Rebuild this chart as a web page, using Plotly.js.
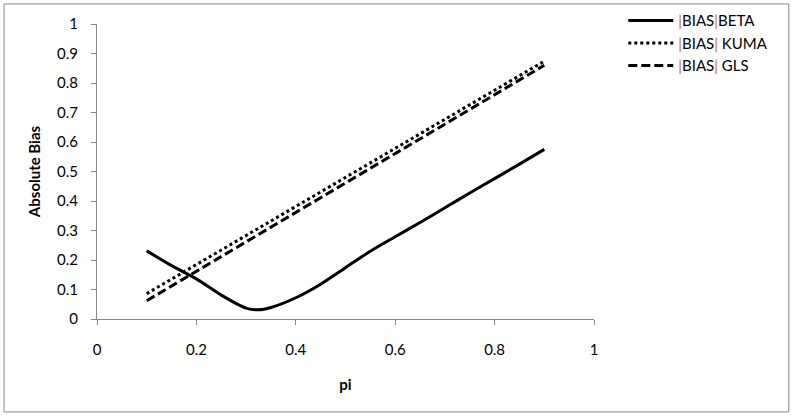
<!DOCTYPE html>
<html>
<head>
<meta charset="utf-8">
<script src="https://cdn.plot.ly/plotly-3.0.1.min.js"></script>
<style>html,body{margin:0;padding:0;background:#fff;}#chart{width:794px;height:416px;}</style>
</head>
<body>
<div id="chart"></div>
<script>
// Data
const piValues = [0.1, 0.15, 0.2, 0.25, 0.3, 0.325, 0.35, 0.4, 0.45, 0.5, 0.55, 0.6, 0.65, 0.7, 0.75, 0.8, 0.85, 0.9];
const biasBeta = [0.231, 0.181, 0.136, 0.081, 0.037, 0.031, 0.039, 0.072, 0.118, 0.174, 0.230, 0.279, 0.327, 0.377, 0.427, 0.476, 0.525, 0.575];
const biasKumaX = [0.1, 0.9];
const biasKuma = [0.086, 0.874];
const biasGlsX = [0.1, 0.9];
const biasGls = [0.062, 0.860];
const xTicks = [0, 0.2, 0.4, 0.6, 0.8, 1];
const yTicks = [0, 0.1, 0.2, 0.3, 0.4, 0.5, 0.6, 0.7, 0.8, 0.9, 1];

const bar = '<span style="color:#c8702a">|</span>';
const names = [bar + 'BIAS' + bar + 'BETA', bar + 'BIAS' + bar + ' KUMA', bar + 'BIAS' + bar + ' GLS'];

const traces = [
  {x: piValues, y: biasBeta, name: names[0], mode: 'lines', line: {color: '#000', width: 3, shape: 'spline', smoothing: 0.8}},
  {x: biasKumaX, y: biasKuma, name: names[1], mode: 'lines', line: {color: '#000', width: 3, dash: '3px,3px'}},
  {x: biasGlsX, y: biasGls, name: names[2], mode: 'lines', line: {color: '#000', width: 3, dash: '9px,4px'}}
];

const fontFam = 'Lato, "Open Sans", sans-serif';
const axisCommon = {
  showgrid: false, zeroline: false, showline: true, linecolor: '#868686', linewidth: 1,
  ticks: 'outside', ticklen: 5, tickcolor: '#868686', tickwidth: 1,
  tickfont: {family: fontFam, size: 15, color: '#000'}
};

const layout = {
  width: 794, height: 416,
  margin: {l: 97, r: 200, t: 24, b: 97},
  paper_bgcolor: '#fff', plot_bgcolor: '#fff',
  font: {family: fontFam, size: 15, color: '#000'},
  xaxis: Object.assign({}, axisCommon, {
    range: [0, 1], tickvals: xTicks, ticktext: xTicks.map(String), ticklabelstandoff: 12,
    automargin: false,
    title: {text: '<b>pi</b>', font: {size: 15}, standoff: 22}
  }),
  yaxis: Object.assign({}, axisCommon, {
    range: [0, 1], tickvals: yTicks, ticktext: yTicks.map(String), ticklabelstandoff: 10,
    automargin: false,
    title: {text: '<b>Absolute Bias</b>', font: {size: 15}, standoff: 12}
  }),
  showlegend: true,
  legend: {xref: 'container', yref: 'container', x: 0.785, y: 0.99, xanchor: 'left', yanchor: 'top',
           font: {size: 15}, itemwidth: 45, tracegroupgap: 0, bgcolor: 'rgba(0,0,0,0)'},
  shapes: [{type: 'rect', xref: 'paper', yref: 'paper', x0: -0.187, x1: 1.392, y0: -0.315, y1: 1.068, line: {color: '#868686', width: 1}}]
};

Plotly.newPlot('chart', traces, layout, {displayModeBar: false, staticPlot: true});
</script>
</body>
</html>
